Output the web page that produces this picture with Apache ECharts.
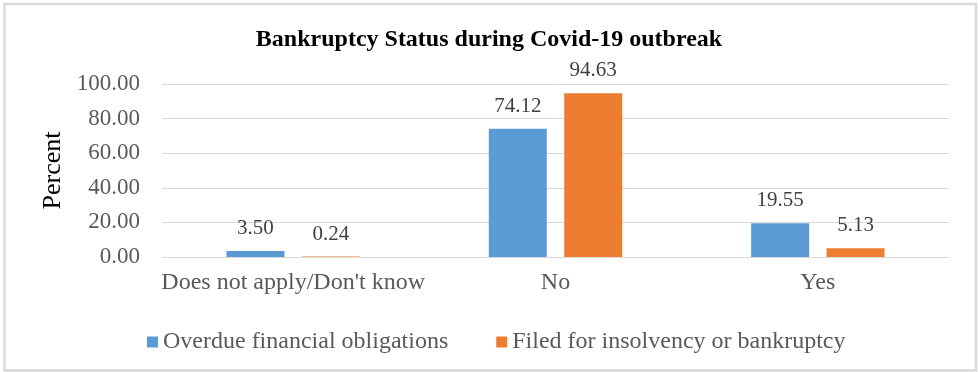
<!DOCTYPE html>
<html>
<head>
<meta charset="utf-8">
<script src="https://cdn.jsdelivr.net/npm/echarts@6/dist/echarts.min.js"></script>
<style>
html,body{margin:0;padding:0;background:#fff;}
#chart{width:978px;height:372px;}
</style>
</head>
<body>
<div id="chart"></div>
<script>
const categories = ["Does not apply/Don't know", "No", "Yes"];
const overdue = [3.50, 74.12, 19.55];
const filed = [0.24, 94.63, 5.13];
const seriesNames = ["Overdue financial obligations", "Filed for insolvency or bankruptcy"];
const yTicks = { min: 0, max: 100, interval: 20 };

const FONT = 'Liberation Serif';
const chart = echarts.init(document.getElementById('chart'));
const labelStyle = {
  show: true, position: 'top', distance: 12,
  fontFamily: FONT, fontSize: 21, color: '#404040',
  formatter: p => p.value.toFixed(2)
};
chart.setOption({
  animation: false,
  backgroundColor: '#fff',
  graphic: [{
    type: 'rect', silent: true,
    shape: { x: 4.5, y: 4, width: 971.5, height: 366.5 },
    style: { fill: 'none', stroke: '#d9d9d9', lineWidth: 2.5 }
  }],
  title: {
    text: 'Bankruptcy Status during Covid-19 outbreak',
    left: 'center', top: 23,
    textStyle: { fontFamily: FONT, fontSize: 24, fontWeight: 'bold', color: '#000' }
  },
  legend: {
    left: 142, top: 325,
    itemWidth: 11, itemHeight: 11, itemGap: 48,
    icon: 'rect',
    textStyle: { fontFamily: FONT, fontSize: 24, color: '#595959' },
    data: seriesNames
  },
  grid: { left: 162, right: 29, top: 84, bottom: 115 },
  xAxis: {
    type: 'category', data: categories,
    axisTick: { show: false },
    axisLine: { lineStyle: { color: '#d9d9d9', width: 1 } },
    axisLabel: { fontFamily: FONT, fontSize: 24, color: '#595959', margin: 14, interval: 0 }
  },
  yAxis: {
    type: 'value', min: yTicks.min, max: yTicks.max, interval: yTicks.interval,
    name: 'Percent', nameLocation: 'middle', nameRotate: 90, nameGap: 96,
    nameTextStyle: { fontFamily: FONT, fontSize: 26, color: '#000' },
    axisLine: { show: false }, axisTick: { show: false },
    splitLine: { lineStyle: { color: '#d9d9d9', width: 1 } },
    axisLabel: { fontFamily: FONT, fontSize: 23, color: '#595959', margin: 22,
      formatter: v => v.toFixed(2) }
  },
  series: [
    { name: seriesNames[0], type: 'bar', data: overdue, barWidth: 58, barGap: '30%',
      itemStyle: { color: '#5b9bd5' }, label: labelStyle },
    { name: seriesNames[1], type: 'bar', data: filed, barWidth: 58, barGap: '30%',
      itemStyle: { color: '#ed7d31' }, label: labelStyle }
  ]
});
</script>
</body>
</html>
